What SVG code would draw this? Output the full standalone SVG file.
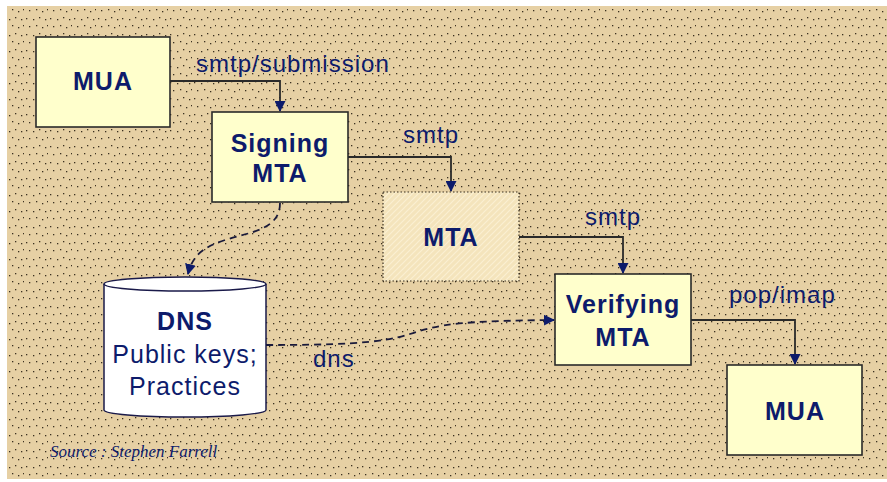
<svg xmlns="http://www.w3.org/2000/svg" width="887" height="482" viewBox="0 0 887 482">
<defs>
<pattern id="dots" width="24" height="16" patternUnits="userSpaceOnUse">
<rect x="2" y="2" width="1.3" height="1.3" fill="#3a3020"/>
<rect x="9" y="3" width="1.3" height="1.3" fill="#3a3020"/>
<rect x="15" y="1" width="1.3" height="1.3" fill="#3a3020"/>
<rect x="21" y="3" width="1.3" height="1.3" fill="#3a3020"/>
<rect x="5" y="10" width="1.3" height="1.3" fill="#3a3020"/>
<rect x="12" y="9" width="1.3" height="1.3" fill="#3a3020"/>
<rect x="18" y="11" width="1.3" height="1.3" fill="#3a3020"/>
<rect x="23" y="9" width="1.3" height="1.3" fill="#3a3020"/>
</pattern>
<pattern id="weave" width="6" height="6" patternUnits="userSpaceOnUse">
<rect width="6" height="6" fill="#F4E4BC"/>
<path d="M0 6L6 0M-1 1L1 -1M5 7L7 5" stroke="#FBF0D2" stroke-width="1.2"/>
</pattern>
<marker id="arr" markerWidth="11" markerHeight="11" refX="10" refY="5.5" orient="auto" markerUnits="userSpaceOnUse">
<path d="M0 0L11 5.5L0 11Z" fill="#0D1B6B"/>
</marker>
</defs>
<style>
.box{fill:#FFFFCC;stroke:#2a2a2a;stroke-width:1.6}
.lbl{font-family:"Liberation Sans",Arial,sans-serif;font-weight:bold;font-size:25px;letter-spacing:1px;fill:#0D1B6B;text-anchor:middle}
.reg{font-weight:normal}
.edge{font-family:"Liberation Sans",Arial,sans-serif;font-size:24px;letter-spacing:1px;fill:#0D1B6B}
.con{fill:none;stroke:#2a2a2a;stroke-width:1.8}
.dash{fill:none;stroke:#1a1a3a;stroke-width:1.8;stroke-dasharray:7 5}
</style>
<rect width="887" height="482" fill="#fff"/>
<rect x="7" y="6" width="880" height="473" fill="#E6D0A4"/>
<rect x="7" y="6" width="880" height="473" fill="url(#dots)"/>

<g id="connectors">
<path class="con" d="M170 81H280V111" marker-end="url(#arr)"/>
<path class="con" d="M348 157H451V191" marker-end="url(#arr)"/>
<path class="con" d="M519 237H623V273" marker-end="url(#arr)"/>
<path class="con" d="M691 320H795V364" marker-end="url(#arr)"/>
<path class="dash" d="M280 203C280 230 250 232 225 240C200 248 192 258 188 274" marker-end="url(#arr)"/>
<path class="dash" d="M266 345C330 345 380 344 410 334C440 324 460 321 554 320" marker-end="url(#arr)"/>
<text class="edge" x="196" y="72">smtp/submission</text>
<text class="edge" x="403" y="143">smtp</text>
<text class="edge" x="585" y="225">smtp</text>
<text class="edge" x="729" y="303">pop/imap</text>
<text class="edge" x="313" y="367">dns</text>
</g>

<g id="mua1">
<rect class="box" x="36" y="37" width="134" height="90"/>
<text class="lbl" x="103" y="90">MUA</text>
</g>
<g id="signing">
<rect class="box" x="212" y="112" width="136" height="90"/>
<text class="lbl" x="280" y="152">Signing</text>
<text class="lbl" x="280" y="182">MTA</text>
</g>
<g id="mta">
<rect x="383" y="192" width="136" height="89" fill="url(#weave)" stroke="#3a3020" stroke-width="1.2" stroke-dasharray="1.5 2"/>
<text class="lbl" x="451" y="246">MTA</text>
</g>
<g id="verifying">
<rect class="box" x="555" y="274" width="136" height="91"/>
<text class="lbl" x="623" y="313">Verifying</text>
<text class="lbl" x="623" y="346">MTA</text>
</g>
<g id="mua2">
<rect class="box" x="727" y="365" width="135" height="90"/>
<text class="lbl" x="795" y="420">MUA</text>
</g>
<g id="dns">
<path d="M104 284V410A81 7 0 0 0 266 410V284A81 7 0 0 0 104 284Z" fill="#fff" stroke="#1a1a4a" stroke-width="1.5"/>
<path d="M104 284A81 7 0 0 0 266 284" fill="none" stroke="#1a1a4a" stroke-width="1.5"/>
<text class="lbl" x="185" y="330">DNS</text>
<text class="lbl reg" x="185" y="363">Public keys;</text>
<text class="lbl reg" x="185" y="395">Practices</text>
</g>
<text x="50" y="457" font-family="Liberation Serif,serif" font-style="italic" font-size="17" fill="#0D1B6B">Source : Stephen Farrell</text>
</svg>
